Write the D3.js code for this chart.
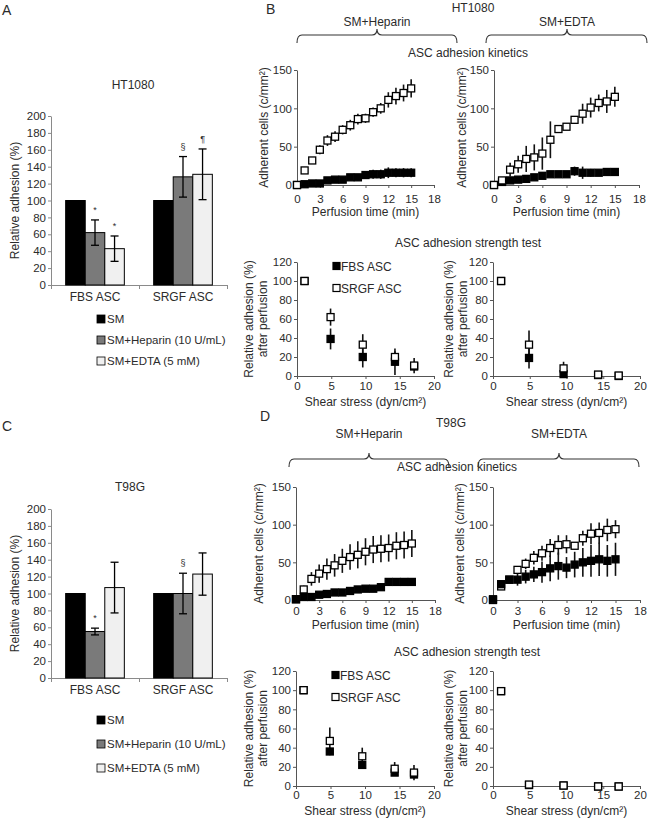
<!DOCTYPE html>
<html><head><meta charset="utf-8">
<script src="https://cdn.jsdelivr.net/npm/d3@7"></script>
<style>
body{margin:0;background:#fff}
svg{display:block}
text{font-family:"Liberation Sans",Arial,Helvetica,sans-serif;fill:#2b2b2b}
</style>
</head><body>
<svg id="c" width="649" height="818"></svg>
<script>
// ---------------- DATA ----------------
const barCategories = ["FBS ASC", "SRGF ASC"];
const barSeries = ["SM", "SM+Heparin (10 U/mL)", "SM+EDTA (5 mM)"];
const barTicks = [0, 20, 40, 60, 80, 100, 120, 140, 160, 180, 200];

const ht1080Bars = [[100, 62, 43], [100, 128, 131]];
const ht1080BarErr = [[0, 15, 15], [0, 24, 30]];
const ht1080Marks = [["", "*", "*"], ["", "§", "¶"]];

const t98gBars = [[100, 55, 107], [100, 100, 123]];
const t98gBarErr = [[0, 4, 30], [0, 24, 25]];
const t98gMarks = [["", "*", ""], ["", "§", ""]];

const times = [0, 1, 2, 3, 4, 5, 6, 7, 8, 9, 10, 11, 12, 13, 14, 15];
const kinTicks = [0, 3, 6, 9, 12, 15, 18];
const kinYTicks = [0, 50, 100, 150];

// HT1080 kinetics
const htHepSRGF    = [0, 19, 32, 46, 58, 63, 72, 78, 86, 87, 95, 100, 111, 116, 120, 126];
const htHepSRGFErr = [0, 2, 4, 6, 7, 7, 6, 7, 7, 6, 6, 7, 10, 11, 11, 12];
const htHepFBS     = [0, 1, 2, 2, 6, 7, 7, 10, 10, 13, 14, 14, 16, 16, 16, 16];
const htHepFBSErr  = [0, 1, 1, 1, 2, 2, 2, 3, 4, 5, 6, 6, 7, 6, 6, 6];
const htEdtaSRGF    = [0, 6, 20, 27, 34, 36, 41, 59, 73, 76, 85, 93, 101, 107, 109, 115];
const htEdtaSRGFErr = [0, 3, 9, 11, 17, 17, 21, 24, 3, 4, 5, 13, 13, 11, 15, 13];
const htEdtaFBS     = [0, 4, 6, 7, 8, 10, 12, 14, 14, 14, 18, 16, 16, 16, 17, 17];
const htEdtaFBSErr  = [0, 1, 1, 1, 1, 2, 4, 3, 3, 3, 6, 8, 5, 3, 4, 4];

// T98G kinetics
const tgHepSRGF    = [1, 14, 28, 35, 41, 46, 52, 57, 60, 64, 67, 68, 69, 72, 73, 75];
const tgHepSRGFErr = [0, 5, 9, 12, 14, 15, 16, 17, 18, 18, 18, 18, 18, 18, 18, 18];
const tgHepFBS     = [1, 4, 4, 7, 8, 10, 10, 12, 14, 15, 15, 17, 24, 24, 24, 24];
const tgHepFBSErr  = [0, 1, 1, 2, 2, 2, 3, 3, 3, 3, 4, 4, 4, 4, 4, 5];
const tgEdtaSRGF    = [0, 18, 27, 40, 48, 56, 62, 69, 73, 74, 72, 82, 88, 89, 93, 94];
const tgEdtaSRGFErr = [0, 2, 3, 5, 7, 9, 10, 12, 13, 12, 3, 10, 14, 14, 15, 12];
const tgEdtaFBS     = [1, 21, 27, 27, 31, 34, 37, 42, 45, 43, 47, 50, 52, 54, 52, 54];
const tgEdtaFBSErr  = [0, 3, 3, 8, 9, 10, 14, 17, 18, 14, 17, 19, 21, 22, 21, 22];

// Strength tests
const shear = [1.1, 4.9, 9.6, 14.3, 17.1];
const strXTicks = [0, 5, 10, 15, 20];
const strYTicks = [0, 20, 40, 60, 80, 100, 120];
const htHepStrFBS     = [100, 39, 20, 15, 10];
const htHepStrFBSErr  = [0, 11, 11, 14, 0];
const htHepStrSRGF    = [100, 62, 33, 20, 11];
const htHepStrSRGFErr = [0, 9, 11, 6, 8];
const htEdtaStrFBS     = [100, 19, 2, 1, 0];
const htEdtaStrFBSErr  = [0, 11, 0, 0, 0];
const htEdtaStrSRGF    = [100, 33, 8, 1.5, 0.5];
const htEdtaStrSRGFErr = [0, 15, 7, 1, 0];
const tgHepStrFBS     = [100, 36, 22, 14, 12];
const tgHepStrFBSErr  = [0, 4, 2, 2, 0];
const tgHepStrSRGF    = [100, 47, 31, 18, 14];
const tgHepStrSRGFErr = [0, 14, 9, 7, 8];
const tgEdtaStrFBS     = [99, 1, 0.5, -0.5, -0.5];
const tgEdtaStrFBSErr  = [0, 0, 0, 0, 0];
const tgEdtaStrSRGF    = [99, 1.5, 0.5, -0.5, -0.5];
const tgEdtaStrSRGFErr = [0, 1, 0, 0, 0];

const seriesNames = ["FBS ASC", "SRGF ASC"];

// ---------------- DRAWING ----------------
const svg = d3.select("#c");
const barColors = ["#000000", "#7a7a7a", "#f0f0f0"];
const FS = 12;
const TFS = 11.5;

function txt(x, y, s, o = {}) {
  const t = svg.append("text").attr("x", x).attr("y", y).text(s)
    .attr("font-size", o.size || FS).attr("text-anchor", o.anchor || "middle");
  if (o.rotate) t.attr("transform", `rotate(-90,${x},${y})`).attr("dominant-baseline", "central");
  return t;
}

function styleAxis(g, color) {
  g.selectAll("path,line").attr("stroke", color).attr("stroke-width", 1);
  g.selectAll("text").attr("font-size", TFS).attr("fill", "#2b2b2b")
    .attr("font-family", '"Liberation Sans",Arial,sans-serif');
}

function barPanel(o) {
  const f = o.frame;
  const x = d3.scaleBand().domain(barCategories).range([f.left, f.right]);
  const xs = d3.scaleBand().domain(barSeries).range([0, x.bandwidth()]).paddingOuter(0.75);
  const y = d3.scaleLinear().domain([0, 200]).range([f.bottom, f.top]);

  const ya = svg.append("g").attr("transform", `translate(${f.left},0)`)
    .call(d3.axisLeft(y).tickValues(barTicks).tickSize(3).tickSizeOuter(0).tickPadding(2));
  styleAxis(ya, "#8a8a8a");
  const xb = d3.scaleLinear().domain([0, barCategories.length]).range([f.left, f.right]);
  const xa = svg.append("g").attr("transform", `translate(0,${f.bottom})`)
    .call(d3.axisBottom(xb).tickValues([0, 1, 2]).tickFormat("").tickSize(4).tickSizeOuter(0));
  styleAxis(xa, "#8a8a8a");

  barCategories.forEach((c, ci) => {
    txt(x(c) + x.bandwidth() / 2, f.bottom + 16, c);
    barSeries.forEach((s, si) => {
      const v = o.values[ci][si], e = o.errors[ci][si];
      const bx = x(c) + xs(s), bw = xs.bandwidth();
      svg.append("rect").attr("x", bx).attr("y", y(v)).attr("width", bw).attr("height", y(0) - y(v))
        .attr("fill", barColors[si]).attr("stroke", "#000").attr("stroke-width", 1);
      if (e > 0) {
        const cx = bx + bw / 2;
        svg.append("line").attr("x1", cx).attr("x2", cx).attr("y1", y(v - e)).attr("y2", y(v + e))
          .attr("stroke", "#000").attr("stroke-width", 1.3);
        [v - e, v + e].forEach(w => svg.append("line").attr("x1", cx - 4).attr("x2", cx + 4)
          .attr("y1", y(w)).attr("y2", y(w)).attr("stroke", "#000").attr("stroke-width", 1.3));
      }
      const m = o.marks[ci][si];
      if (m) txt(bx + bw / 2, y(v + e) - 7, m, { size: 9 }).attr("fill", "#555");
    });
  });
  txt(f.labelX, (f.top + f.bottom) / 2, "Relative adhesion (%)", { rotate: true });
  txt(o.titleX, o.titleY, o.title);
  barSeries.forEach((s, si) => {
    const ly = o.legendY[si];
    svg.append("rect").attr("x", 97).attr("y", ly - 4).attr("width", 8).attr("height", 8)
      .attr("fill", barColors[si]).attr("stroke", "#000").attr("stroke-width", 0.8);
    txt(107, ly + 4, s, { anchor: "start", size: 11.5 });
  });
}

function scatterPanel(o) {
  const f = o.frame;
  const x = d3.scaleLinear().domain(o.xDomain).range([f.left, f.right]);
  const y = d3.scaleLinear().domain(o.yDomain).range([f.bottom, f.top]);
  const ya = svg.append("g").attr("transform", `translate(${f.left},0)`)
    .call(d3.axisLeft(y).tickValues(o.yTicks).tickSize(3).tickSizeOuter(0).tickPadding(2));
  styleAxis(ya, "#555");
  const xa = svg.append("g").attr("transform", `translate(0,${f.bottom})`)
    .call(d3.axisBottom(x).tickValues(o.xTicks).tickSize(3).tickSizeOuter(0).tickPadding(o.tickPad));
  styleAxis(xa, "#555");

  // error bars
  o.series.forEach(s => {
    s.vals.forEach((v, i) => {
      if (s.errs[i] > 0) {
        svg.append("line").attr("x1", x(o.xs[i])).attr("x2", x(o.xs[i]))
          .attr("y1", y(Math.max(v - s.errs[i], o.yDomain[0]))).attr("y2", y(v + s.errs[i]))
          .attr("stroke", "#111").attr("stroke-width", 1.6);
      }
    });
  });
  const sz = 7;
  o.series.forEach(s => {
    svg.append("g").selectAll("rect").data(s.vals).join("rect")
      .attr("x", (d, i) => x(o.xs[i]) - sz / 2).attr("y", d => y(d) - sz / 2)
      .attr("width", sz).attr("height", sz)
      .attr("fill", s.filled ? "#000" : "#fff").attr("stroke", "#000").attr("stroke-width", 1.3);
  });

  // labels
  txt((f.left + f.right) / 2, o.xLabelY, o.xLabel);
  o.yLabel.forEach((l, i) => txt(o.yLabelX[i], (f.top + f.bottom) / 2, l, { rotate: true }));
  if (o.legend) {
    seriesNames.forEach((n, i) => {
      const ly = f.top + 4 + i * 22;
      svg.append("rect").attr("x", f.left + 36).attr("y", ly - 3.5).attr("width", 7).attr("height", 7)
        .attr("fill", i === 0 ? "#000" : "#fff").attr("stroke", "#000").attr("stroke-width", 1.2);
      txt(f.left + 44, ly + 4.5, n, { anchor: "start" });
    });
  }
}

function brace(x0, x1, xm, yTop, yEnd, yPeak) {
  const r = 5;
  const p = `M${x0},${yEnd} Q${x0},${yTop} ${x0 + r},${yTop} L${xm - r},${yTop} Q${xm},${yTop} ${xm},${yPeak}` +
    ` Q${xm},${yTop} ${xm + r},${yTop} L${x1 - r},${yTop} Q${x1},${yTop} ${x1},${yEnd}`;
  svg.append("path").attr("d", p).attr("fill", "none").attr("stroke", "#333").attr("stroke-width", 1.1);
}

// Panel letters
txt(2, 15, "A", { anchor: "start", size: 14 });
txt(266, 14, "B", { anchor: "start", size: 14 });
txt(2, 431, "C", { anchor: "start", size: 14 });
txt(260, 421, "D", { anchor: "start", size: 14 });

// Panel A / C bar charts
barPanel({ frame: { left: 51, right: 227, top: 116, bottom: 285, labelX: 15 }, values: ht1080Bars, errors: ht1080BarErr,
  marks: ht1080Marks, title: "HT1080", titleX: 133, titleY: 89, legendY: [319, 340, 361] });
barPanel({ frame: { left: 51, right: 227, top: 509, bottom: 678, labelX: 15 }, values: t98gBars, errors: t98gBarErr,
  marks: t98gMarks, title: "T98G", titleX: 130, titleY: 491, legendY: [720, 744, 768] });

// Panel B headers
txt(473, 12, "HT1080");
txt(377, 26, "SM+Heparin");
txt(567, 26, "SM+EDTA");
brace(297, 457, 377, 35, 43, 29);
brace(486, 647, 567, 35, 43, 29);
txt(468, 57, "ASC adhesion kinetics");
txt(468, 247, "ASC adhesion strength test");

// Panel D headers
txt(451, 427, "T98G");
txt(369, 438, "SM+Heparin");
txt(559, 438, "SM+EDTA");
brace(289, 449, 369, 459, 467, 453);
brace(478, 639, 559, 459, 467, 453);
txt(457, 471, "ASC adhesion kinetics");
txt(467, 656, "ASC adhesion strength test");

const kinY = ["Adherent cells (c/mm²)"];
const strY = ["Relative adhesion (%)", "after perfusion"];

// B kinetics
scatterPanel({ frame: { left: 297, right: 434, top: 70, bottom: 185 }, xDomain: [0, 18], yDomain: [0, 150],
  xTicks: kinTicks, yTicks: kinYTicks, xs: times, tickPad: 7, xLabel: "Perfusion time (min)", xLabelY: 216,
  yLabel: kinY, yLabelX: [264],
  series: [{ vals: htHepFBS, errs: htHepFBSErr, filled: true }, { vals: htHepSRGF, errs: htHepSRGFErr, filled: false }] });
scatterPanel({ frame: { left: 494, right: 639, top: 70, bottom: 185 }, xDomain: [0, 18], yDomain: [0, 150],
  xTicks: kinTicks, yTicks: kinYTicks, xs: times, tickPad: 7, xLabel: "Perfusion time (min)", xLabelY: 216,
  yLabel: kinY, yLabelX: [462],
  series: [{ vals: htEdtaFBS, errs: htEdtaFBSErr, filled: true }, { vals: htEdtaSRGF, errs: htEdtaSRGFErr, filled: false }] });
// B strength
scatterPanel({ frame: { left: 297, right: 434, top: 262, bottom: 376 }, xDomain: [0, 20], yDomain: [0, 120],
  xTicks: strXTicks, yTicks: strYTicks, xs: shear, tickPad: 3, xLabel: "Shear stress (dyn/cm²)", xLabelY: 406,
  yLabel: strY, yLabelX: [249, 263], legend: true,
  series: [{ vals: htHepStrFBS, errs: htHepStrFBSErr, filled: true }, { vals: htHepStrSRGF, errs: htHepStrSRGFErr, filled: false }] });
scatterPanel({ frame: { left: 493, right: 640, top: 262, bottom: 376 }, xDomain: [0, 20], yDomain: [0, 120],
  xTicks: strXTicks, yTicks: strYTicks, xs: shear, tickPad: 3, xLabel: "Shear stress (dyn/cm²)", xLabelY: 406,
  yLabel: strY, yLabelX: [449, 463],
  series: [{ vals: htEdtaStrFBS, errs: htEdtaStrFBSErr, filled: true }, { vals: htEdtaStrSRGF, errs: htEdtaStrSRGFErr, filled: false }] });

// D kinetics (filled on top)
scatterPanel({ frame: { left: 296, right: 435, top: 487, bottom: 600 }, xDomain: [0, 18], yDomain: [0, 150],
  xTicks: kinTicks, yTicks: kinYTicks, xs: times, tickPad: 4, xLabel: "Perfusion time (min)", xLabelY: 629,
  yLabel: kinY, yLabelX: [259],
  series: [{ vals: tgHepSRGF, errs: tgHepSRGFErr, filled: false }, { vals: tgHepFBS, errs: tgHepFBSErr, filled: true }] });
scatterPanel({ frame: { left: 493, right: 640, top: 487, bottom: 600 }, xDomain: [0, 18], yDomain: [0, 150],
  xTicks: kinTicks, yTicks: kinYTicks, xs: times, tickPad: 4, xLabel: "Perfusion time (min)", xLabelY: 629,
  yLabel: kinY, yLabelX: [460],
  series: [{ vals: tgEdtaSRGF, errs: tgEdtaSRGFErr, filled: false }, { vals: tgEdtaFBS, errs: tgEdtaFBSErr, filled: true }] });
// D strength
scatterPanel({ frame: { left: 296, right: 434, top: 671, bottom: 786 }, xDomain: [0, 20], yDomain: [0, 120],
  xTicks: strXTicks, yTicks: strYTicks, xs: shear, tickPad: 2, xLabel: "Shear stress (dyn/cm²)", xLabelY: 815,
  yLabel: strY, yLabelX: [249, 263], legend: true,
  series: [{ vals: tgHepStrFBS, errs: tgHepStrFBSErr, filled: true }, { vals: tgHepStrSRGF, errs: tgHepStrSRGFErr, filled: false }] });
scatterPanel({ frame: { left: 493, right: 640, top: 671, bottom: 786 }, xDomain: [0, 20], yDomain: [0, 120],
  xTicks: strXTicks, yTicks: strYTicks, xs: shear, tickPad: 2, xLabel: "Shear stress (dyn/cm²)", xLabelY: 815,
  yLabel: strY, yLabelX: [449, 463],
  series: [{ vals: tgEdtaStrFBS, errs: tgEdtaStrFBSErr, filled: true }, { vals: tgEdtaStrSRGF, errs: tgEdtaStrSRGFErr, filled: false }] });
</script>
</body></html>
